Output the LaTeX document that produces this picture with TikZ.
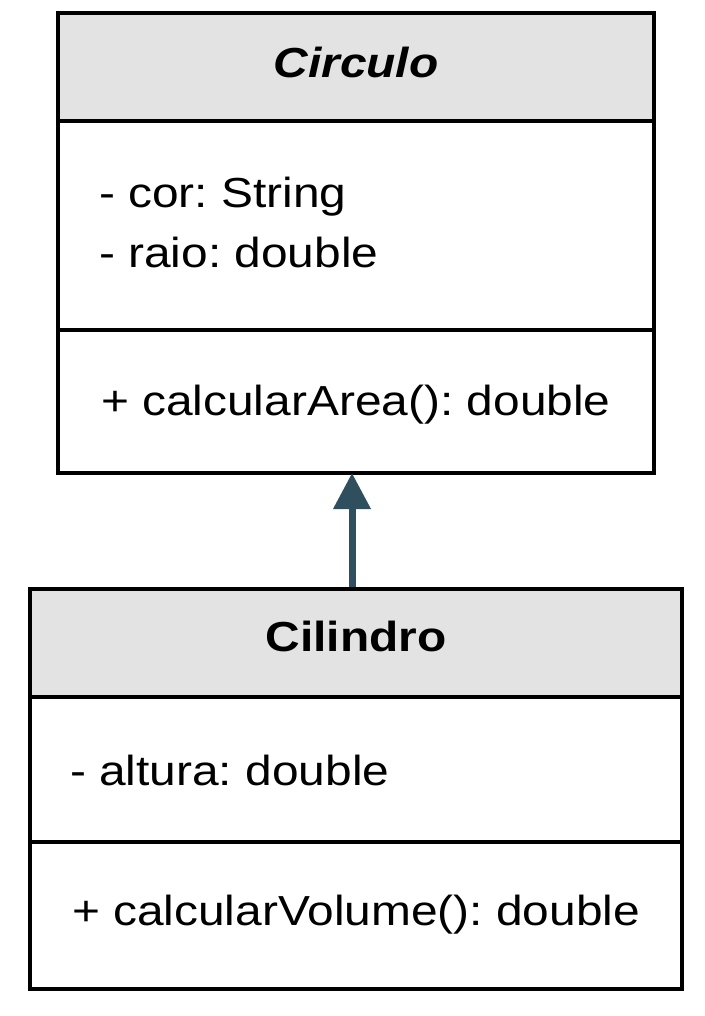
\documentclass[tikz,border=0pt]{standalone}
\usepackage{fontspec}
\setmainfont{Liberation Sans}[FakeStretch=1.14]
\usetikzlibrary{arrows.meta}
\definecolor{headgray}{HTML}{E3E3E3}
\definecolor{arrowblue}{HTML}{2F4F5F}
\frenchspacing

\begin{document}
\begin{tikzpicture}[x=0.5pt,y=-0.5pt,line join=miter,>={Triangle[length=18pt,width=18pt]}]
    \tikzset{every node/.style={inner sep=0pt,outer sep=0pt},
        box/.style={draw=black,line width=2pt,minimum width=#1},
        txt/.style={anchor=base west,font=\fontsize{21pt}{29pt}\selectfont},
        ttl/.style={anchor=base,font=\fontsize{21pt}{29pt}\selectfont\bfseries}}
    \useasboundingbox (0,0) rectangle (705,1016);
    % Circulo
    \node[box=298pt,fill=headgray,minimum height=54pt] (circhead) at (356,67) {};
    \node[box=298pt,minimum height=104.5pt] (circattr) at (356,225.5) {};
    \node[box=298pt,minimum height=71.5pt] (circmeth) at (356,401.5) {};
    \node[ttl] (circname) at (356,78) {\itshape Circulo};
    \node[txt] (cor) at (99,208) {- cor: String};
    \node[txt] (raio) at (99,267) {- raio: double};
    \node[txt] (area) at (101,415) {+ calcularArea(): double};
    % Cilindro
    \node[box=326pt,fill=headgray,minimum height=54pt] (cilhead) at (356,643) {};
    \node[box=326pt,minimum height=72.5pt] (cilattr) at (356,769.5) {};
    \node[box=326pt,minimum height=73.5pt] (cilmeth) at (356,915.5) {};
    \node[ttl] (cilname) at (356,651) {Cilindro};
    \node[txt] (altura) at (70,785) {- altura: double};
    \node[txt] (volume) at (72,925) {+ calcularVolume(): double};
    % heranca
    \draw[->,arrowblue,line width=3.5pt] ([xshift=-2pt,yshift=1pt]cilhead.north) -- ([xshift=-2pt]circmeth.south);
\end{tikzpicture}
\end{document}
